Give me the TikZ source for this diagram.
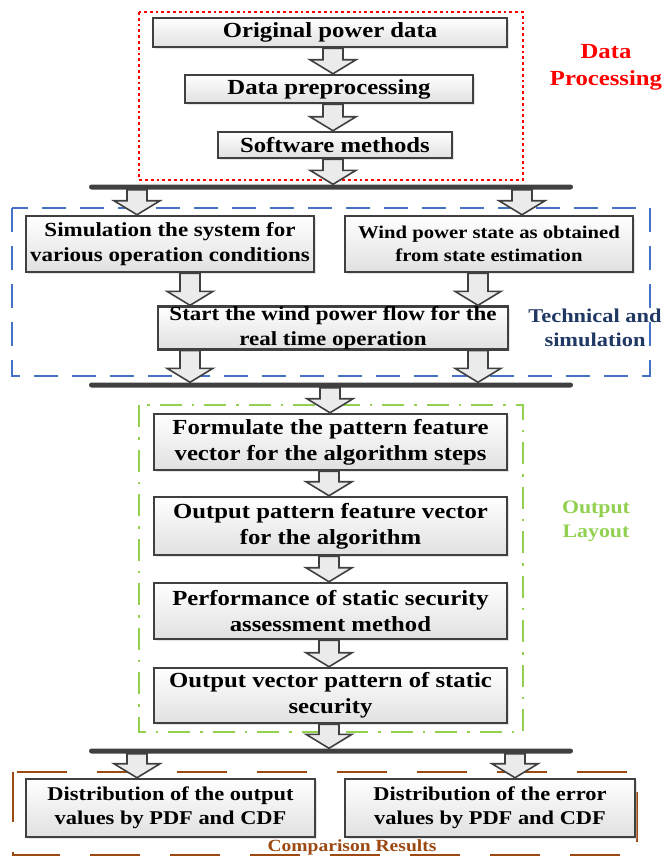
\documentclass[tikz,border=0pt]{standalone}
\usepackage{fontspec}
\setmainfont{Liberation Serif}
\newfontfamily\widefont{Liberation Serif}[FakeStretch=1.15]
\usepackage{tikz}
\usetikzlibrary{calc, shadows}
\definecolor{procRed}{HTML}{FF0000}
\definecolor{techBlue}{HTML}{4472C4}
\definecolor{techNavy}{HTML}{203864}
\definecolor{outGreen}{HTML}{92D050}
\definecolor{compBrown}{HTML}{9C4A12}
\definecolor{boxGray}{HTML}{404040}

\begin{document}
\begin{tikzpicture}[
x=1pt, y=-1pt,
procbox/.style={
draw=boxGray,
line width=2.5,
top color=white,
bottom color=black!12,
drop shadow={shadow xshift=2pt, shadow yshift=-2pt, fill=black!20},
inner sep=0,
align=center,
font=\widefont\bfseries\fontsize{20}{24.5}\selectfont
},
topbox/.style={procbox, font=\widefont\bfseries\fontsize{21.5}{26}\selectfont},
bigbox/.style={procbox, font=\widefont\bfseries\fontsize{21.5}{26}\selectfont},
smallbox/.style={procbox, font=\widefont\bfseries\fontsize{18}{23}\selectfont},
busbar/.style={fill=boxGray, minimum width=484, minimum height=5, inner sep=0, rounded corners=2.5},
blockarrow/.style={draw=boxGray, line width=1.6, fill=black!8,
to path={let \p1=(\tikztostart), \p2=(\tikztotarget) in
(\x1-10pt,\y1) -- (\x1-10pt,\y2+14pt) -- (\x1-23pt,\y2+14pt) -- (\x1,\y2)
-- (\x1+23pt,\y2+14pt) -- (\x1+10pt,\y2+14pt) -- (\x1+10pt,\y1) -- cycle}},
grouplabel/.style={align=center, inner sep=0},
procframe/.style={draw=procRed, line width=2.8, dash pattern=on 2.8pt off 3pt},
techframe/.style={draw=techBlue, line width=2.5, dash pattern=on 24pt off 14pt},
outframe/.style={draw=outGreen, line width=2.5, dash pattern=on 22pt off 10pt on 2.5pt off 10pt},
compframe/.style={draw=compBrown, line width=2.5, dash pattern=on 50pt off 30pt}
]
\useasboundingbox (0,0) rectangle (662,860);

% group frames
\draw[procframe] (139,12) rectangle (523,180);
\draw[techframe] (12,208) rectangle (650,376);
\draw[outframe] (139,405) rectangle (523,732);
\draw[compframe] (13,772) rectangle (637,855);

% data processing
\node[topbox, minimum width=354, minimum height=29] (orig) at (330,32.5) {Original power data};
\node[topbox, minimum width=288, minimum height=28] (prep) at (329,89) {Data preprocessing};
\node[topbox, minimum width=234, minimum height=26] (soft) at (335,145) {Software methods};

\node[busbar] (bus1) at (331,187) {};

% technical and simulation
\node[procbox, minimum width=288, minimum height=56] (sim) at (170,244)
{Simulation the system for\\various operation conditions};
\node[smallbox, minimum width=288, minimum height=56] (wind) at (489,244)
{Wind power state as obtained\\from state estimation};
\node[procbox, minimum width=350, minimum height=40] (start) at (333,328)
{Start the wind power flow for the\\real time operation};

\node[busbar] (bus2) at (331,385) {};

% output layout
\node[bigbox, minimum width=353, minimum height=56] (feat) at (330.5,442)
{Formulate the pattern feature\\vector for the algorithm steps};
\node[bigbox, minimum width=353, minimum height=58] (outfeat) at (330.5,526)
{Output pattern feature vector\\for the algorithm};
\node[bigbox, minimum width=353, minimum height=56] (perf) at (330.5,611)
{Performance of static security\\assessment method};
\node[bigbox, minimum width=353, minimum height=55] (outvec) at (330.5,695.5)
{Output vector pattern of static\\security};

\node[busbar] (bus3) at (331,751) {};

% comparison results
\node[procbox, font=\widefont\bfseries\fontsize{19.5}{24}\selectfont, minimum width=289, minimum height=58] (distout) at (170.5,808)
{Distribution of the output\\values by PDF and CDF};
\node[procbox, font=\widefont\bfseries\fontsize{19.5}{24}\selectfont, minimum width=290, minimum height=58] (disterr) at (490,808)
{Distribution of the error\\values by PDF and CDF};

% block arrows
\draw[blockarrow] (333,0 |- orig.south) to (prep.north);
\draw[blockarrow] (333,0 |- prep.south) to (soft.north);
\draw[blockarrow] (333,0 |- soft.south) to (bus1.north);
\draw[blockarrow] (137,0 |- bus1.south) to (sim.north);
\draw[blockarrow] (522,0 |- bus1.south) to (wind.north);
\draw[blockarrow] (190,0 |- sim.south) to (start.north);
\draw[blockarrow] (478,0 |- wind.south) to (start.north);
\draw[blockarrow] (190,0 |- start.south) to (bus2.north);
\draw[blockarrow] (478,0 |- start.south) to (bus2.north);
\draw[blockarrow] (330,0 |- bus2.south) to (feat.north);
\draw[blockarrow] (329,0 |- feat.south) to (outfeat.north);
\draw[blockarrow] (329,0 |- outfeat.south) to (perf.north);
\draw[blockarrow] (329,0 |- perf.south) to (outvec.north);
\draw[blockarrow] (329,0 |- outvec.south) to (bus3.north);
\draw[blockarrow] (137,0 |- bus3.south) to (distout.north);
\draw[blockarrow] (515,0 |- bus3.south) to (disterr.north);

% group labels
\node[grouplabel, text=procRed, font=\widefont\bfseries\fontsize{21.5}{27}\selectfont] (lblproc) at (606,67) {Data\\Processing};
\node[grouplabel, text=techNavy, font=\widefont\bfseries\fontsize{19.5}{24}\selectfont] (lbltech) at (595,328) {Technical and\\simulation};
\node[grouplabel, text=outGreen, font=\widefont\bfseries\fontsize{19}{24}\selectfont] (lblout) at (596,521) {Output\\Layout};
\node[grouplabel, text=compBrown, font=\widefont\bfseries\fontsize{17}{20}\selectfont] (lblcomp) at (352,847) {Comparison Results};

\end{tikzpicture}
\end{document}
